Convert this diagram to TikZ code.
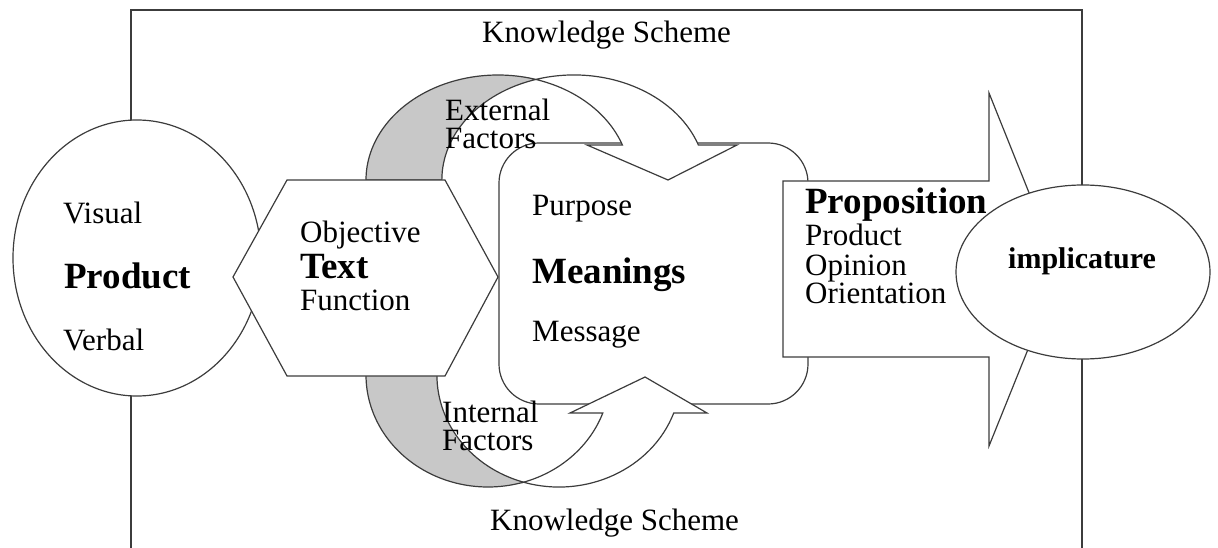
\documentclass[tikz,border=0pt]{standalone}
\usepackage{fontspec}
\setmainfont{Liberation Serif}
\usetikzlibrary{shapes.geometric}
\definecolor{linegray}{HTML}{3C3C3C}
\definecolor{backgray}{HTML}{C8C8C8}

\begin{document}
\begin{tikzpicture}[x=1pt,y=-1pt,
  shp/.style={draw=linegray,fill=white,line width=1.2pt},
  back/.style={draw=linegray,fill=backgray,line width=1.2pt},
  lbl/.style={anchor=base west,inner sep=0pt,font=\fontsize{31}{31}\selectfont},
  bold/.style={lbl,font=\fontsize{37}{37}\selectfont\bfseries}]
  \useasboundingbox (0,0) rectangle (1218,548);
  \draw[linegray,line width=1.2pt] (131,548) -- (131,10) -- (1082,10) -- (1082,548);
  \node[shp,ellipse,inner sep=0pt,minimum width=248pt,minimum height=276pt] (product) at (137,258) {};
  \node[shp,rounded corners=40pt,inner sep=0pt,minimum width=309pt,minimum height=261pt] (meanings) at (653.5,273.5) {};
  \path[back] (366,180) arc[start angle=180,end angle=286.7,x radius=132,y radius=105]
    arc[start angle=253.3,end angle=180,x radius=132,y radius=105] -- cycle;
  \path[shp] (536,79.4) arc[start angle=253.3,end angle=340.5,x radius=132,y radius=105]
    -- (737,145) -- (668,180) -- (587,145) -- (622.4,145)
    arc[start angle=340.5,end angle=286.7,x radius=132,y radius=105] -- cycle;
  \path[back] (366,375) arc[start angle=180,end angle=73.1,x radius=122,y radius=112]
    arc[start angle=106.9,end angle=180,x radius=122,y radius=112] -- cycle;
  \path[shp] (523.5,482.2) arc[start angle=106.9,end angle=19.8,x radius=122,y radius=112]
    -- (707,413) -- (645,377) -- (570,413) -- (602.8,413)
    arc[start angle=19.8,end angle=73.1,x radius=122,y radius=112] -- cycle;
  \draw[shp] (233,277) -- (287,180) -- (445,180) -- (498,277) -- (445,376) -- (287,376) -- cycle;
  \draw[shp] (783,181) -- (989,181) -- (989,93) -- (1060,270) -- (989,446) -- (989,357) -- (783,357) -- cycle;
  \node[shp,ellipse,inner sep=0pt,minimum width=254pt,minimum height=174pt] (impl) at (1083,272) {};
  \node[lbl] (kstop) at (482,43) {Knowledge Scheme};
  \node[lbl] (ksbot) at (490,530) {Knowledge Scheme};
  \node[lbl] (visual) at (63,223) {Visual};
  \node[bold] (prodtxt) at (64,288) {Product};
  \node[lbl] (verbal) at (63,350) {Verbal};
  \node[lbl] (objective) at (300,243) {Objective};
  \node[bold] (text) at (300,278) {Text};
  \node[lbl] (function) at (300,310) {Function};
  \node[lbl] (external) at (445,121) {External};
  \node[lbl] (extfactors) at (445,149) {Factors};
  \node[lbl] (internal) at (442,422) {Internal};
  \node[lbl] (intfactors) at (442,450) {Factors};
  \node[lbl] (purpose) at (532,216) {Purpose};
  \node[bold] (meantxt) at (532,283) {Meanings};
  \node[lbl] (message) at (532,341) {Message};
  \node[bold] (proposition) at (805,214) {Proposition};
  \node[lbl] (propproduct) at (805,245) {Product};
  \node[lbl] (opinion) at (805,275) {Opinion};
  \node[lbl] (orientation) at (805,303) {Orientation};
  \node[lbl,font=\fontsize{30}{30}\selectfont\bfseries] (impltxt) at (1008,269) {implicature};
\end{tikzpicture}
\end{document}
